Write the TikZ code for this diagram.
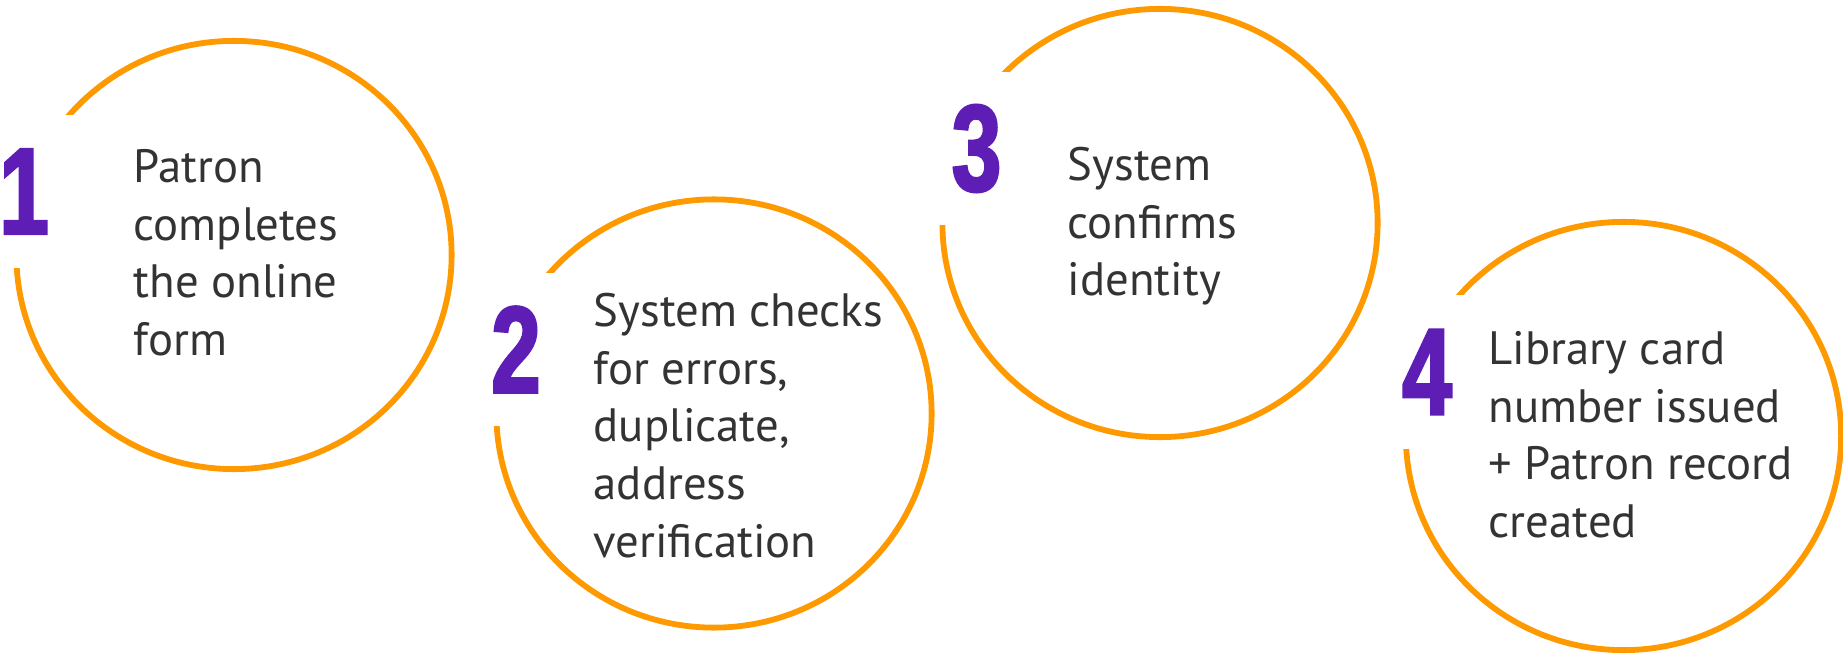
\documentclass[tikz,border=0pt]{standalone}
\usepackage{fontspec}
\setmainfont{PT Sans}
\newfontfamily\numfont{Liberation Sans}[FakeStretch=0.72,FakeBold=2.2]
\usetikzlibrary{shapes.geometric}

\definecolor{ringorange}{HTML}{FF9900}
\definecolor{steppurple}{HTML}{5E1DB5}
\definecolor{stepgray}{HTML}{333333}

\tikzset{
	ring/.style={ellipse, draw=ringorange, line width=0.058cm, minimum width=4.35cm, minimum height=4.28cm, inner sep=0pt},
	stepnum/.style={fill=white, text=steppurple, minimum width=1.04cm, minimum height=1.53cm, inner sep=0pt, font=\numfont\bfseries\fontsize{35}{35}\selectfont},
	% base anchor sits on the last line
	steptext/.style={anchor=base west, align=left, inner sep=0pt, text=stepgray, font=\fontsize{13.3}{16.36}\selectfont}
}

\begin{document}
\begin{tikzpicture}[x=0.01cm, y=-0.01cm]

		\useasboundingbox (0,0) rectangle (1843,655);
		%\draw[step=100,gray,very thin] (0,0) grid (1843,655);

		% the four rings
		\node[ring] (ring1) at (234,255) {};
		\node[ring] (ring2) at (714,413.5) {};
		\node[ring] (ring3) at (1160,223) {};
		\node[ring] (ring4) at (1623.5,436) {};

		% numbers, each one cuts its gap out of the ring
		\node[stepnum] (num1) at (24,191.5) {1};
		\node[stepnum] (num2) at (516,349.5) {2};
		\node[stepnum] (num3) at (976.5,148.5) {3};
		\node[stepnum] (num4) at (1427,372) {4};

		\node[steptext] (text1) at (133,355.5) {Patron\\completes\\the online\\form};
		\node[steptext] (text2) at (593,557) {System checks\\for errors,\\duplicate,\\address\\verification};
		\node[steptext] (text3) at (1067,296) {System\\confirms\\identity};
		\node[steptext] (text4) at (1488,537.5) {Library card\\number issued\\+ Patron record\\created};

\end{tikzpicture}
\end{document}
